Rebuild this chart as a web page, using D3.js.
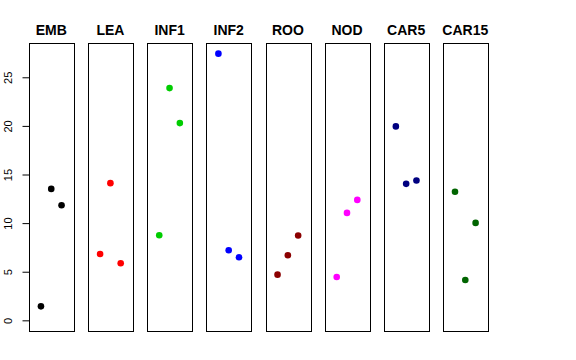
<!DOCTYPE html>
<html><head><meta charset="utf-8">
<script src="https://d3js.org/d3.v7.min.js"></script>
<style>body{margin:0;background:#fff}</style>
</head><body>
<svg id="c" width="576" height="360"></svg>
<script>
const categories = ["EMB","LEA","INF1","INF2","ROO","NOD","CAR5","CAR15"];
const colors = ["#000000","#FF0000","#00CD00","#0000FF","#8B0000","#FF00FF","#000080","#006400"];
const replicate1 = [1.44, 6.83, 8.75, 27.43, 4.70, 4.46, 19.95, 13.22];
const replicate2 = [13.52, 14.11, 23.89, 7.21, 6.69, 11.05, 14.04, 4.15];
const replicate3 = [11.84, 5.87, 20.29, 6.49, 8.72, 12.39, 14.38, 10.02];
const yTicks = [0, 5, 10, 15, 20, 25];

(function () {
const svg = d3.select("#c");
const plotTop = 43, plotBottom = 331, panelW = 44.5, step = 59.15, left0 = 29;
const ymax = d3.max([...replicate1, ...replicate2, ...replicate3]);
const pad = 0.04 * ymax;
const y = d3.scaleLinear().domain([-pad, ymax + pad]).range([plotBottom, plotTop]);
const xBand = d3.scaleLinear().domain([0, categories.length]).range([left0, left0 + step * categories.length]);

categories.forEach((cat, i) => {
  const x0 = xBand(i);
  const x = d3.scaleLinear().domain([-0.16, 4.16]).range([x0, x0 + panelW]);
  const g = svg.append("g");
  g.append("rect").attr("x", Math.round(x0) + 0.5).attr("y", plotTop + 0.5)
    .attr("width", Math.round(panelW)).attr("height", plotBottom - plotTop)
    .attr("fill", "none").attr("stroke", "#000").attr("stroke-width", 1);
  g.append("text").attr("x", x0 + panelW / 2).attr("y", 35)
    .attr("text-anchor", "middle").attr("font-family", "Liberation Sans, Arial, sans-serif")
    .attr("font-weight", "bold").attr("font-size", 14).text(cat);
  const vals = [replicate1[i], replicate2[i], replicate3[i]];
  g.selectAll("circle").data(vals).join("circle")
    .attr("cx", (d, j) => x(j + 1)).attr("cy", d => y(d)).attr("r", 3.3)
    .attr("fill", colors[i]);
  if (i === 0) {
    const axis = d3.axisLeft(y).tickValues(yTicks).tickSize(7).tickPadding(3);
    const ag = svg.append("g").attr("transform", `translate(${Math.round(x0) + 0.5},0)`).call(axis);
    ag.select(".domain").attr("d", `M0,${y(0)}V${y(25)}`).attr("stroke", "#000");
    ag.selectAll(".tick line").attr("stroke", "#000");
    ag.selectAll(".tick text").attr("font-family", "Liberation Sans, Arial, sans-serif")
      .attr("font-size", 11).attr("fill", "#000")
      .attr("x", 0).attr("y", 0).attr("dy", 0).attr("text-anchor", "middle")
      .attr("transform", "translate(-17.5,0) rotate(-90)");
  }
});
})();
</script>
</body></html>
